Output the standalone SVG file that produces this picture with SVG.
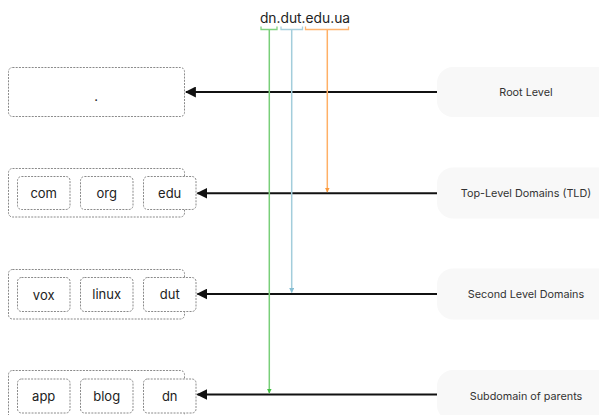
<svg xmlns="http://www.w3.org/2000/svg" width="599" height="415" viewBox="0 0 599 415">
  <style>
    .box { fill: #ffffff; stroke: #8a8a8a; stroke-width: 1; stroke-dasharray: 2 1.2; }
    .lvl { fill: #f8f8f8; stroke: none; }
    .node-text { font-family: Inter, "Open Sans", sans-serif; font-size: 13px; fill: #222; text-anchor: middle; dominant-baseline: central; }
    .lvl-text { font-family: Inter, "Open Sans", sans-serif; font-size: 10.8px; fill: #333; text-anchor: middle; dominant-baseline: central; }
    .domain { font-family: Inter, "Open Sans", sans-serif; font-size: 13.8px; fill: #222; text-anchor: middle; }
    .conn { stroke: #111; stroke-width: 2; fill: none; }
    .brk { fill: none; stroke-width: 1.3; }
  </style>
  <defs>
    <marker id="head" viewBox="0 0 10 10" refX="9" refY="5" markerWidth="5.5" markerHeight="5.5" orient="auto">
      <path d="M0,0 L10,5 L0,10 z" fill="#111"/>
    </marker>
    <marker id="headG" viewBox="0 0 10 10" refX="9" refY="5" markerWidth="5" markerHeight="5" orient="auto" markerUnits="userSpaceOnUse">
      <path d="M0,0 L10,5 L0,10 z" fill="#3fc03f"/>
    </marker>
    <marker id="headB" viewBox="0 0 10 10" refX="9" refY="5" markerWidth="5" markerHeight="5" orient="auto" markerUnits="userSpaceOnUse">
      <path d="M0,0 L10,5 L0,10 z" fill="#86bed3"/>
    </marker>
    <marker id="headO" viewBox="0 0 10 10" refX="9" refY="5" markerWidth="5" markerHeight="5" orient="auto" markerUnits="userSpaceOnUse">
      <path d="M0,0 L10,5 L0,10 z" fill="#fb9a3c"/>
    </marker>
  </defs>

  <!-- domain name with brackets -->
  <g id="domain">
    <text class="domain" x="305" y="23">dn.dut.edu.ua</text>
    <path class="brk" stroke="#7fd27f" d="M261,26.5 V29.5 H277 V26.5"/>
    <path class="brk" stroke="#a9d0dd" d="M281,26.5 V29.5 H302.5 V26.5"/>
    <path class="brk" stroke="#ffb46e" d="M305.5,26.5 V29.5 H348.5 V26.5"/>
  </g>

  <!-- level labels -->
  <g id="lvl-root"><rect class="lvl" x="437" y="67" width="180" height="50" rx="16"/><text class="lvl-text" x="526" y="92">Root Level</text></g>
  <g id="lvl-tld"><rect class="lvl" x="437" y="167.5" width="180" height="51" rx="16"/><text class="lvl-text" x="526" y="193">Top-Level Domains (TLD)</text></g>
  <g id="lvl-sld"><rect class="lvl" x="437" y="268.5" width="180" height="51" rx="16"/><text class="lvl-text" x="526" y="294">Second Level Domains</text></g>
  <g id="lvl-sub"><rect class="lvl" x="437" y="370" width="180" height="51" rx="16"/><text class="lvl-text" x="526" y="396">Subdomain of parents</text></g>

  <!-- root -->
  <g id="root">
    <rect class="box" x="8.5" y="67.5" width="176" height="49" rx="4"/>
    <text class="node-text" x="96" y="96">.</text>
  </g>

  <!-- top-level domains -->
  <g id="tld">
    <rect class="box" x="8.5" y="168.5" width="176" height="48.5" rx="4"/>
    <g id="com"><rect class="box" x="17.5" y="176.5" width="52.5" height="33" rx="4"/><text class="node-text" x="43.7" y="193">com</text></g>
    <g id="org"><rect class="box" x="80.5" y="176.5" width="52.5" height="33" rx="4"/><text class="node-text" x="106.7" y="193">org</text></g>
    <g id="edu"><rect class="box" x="143.5" y="176.5" width="52.5" height="33" rx="4"/><text class="node-text" x="169.7" y="193">edu</text></g>
  </g>

  <!-- second level domains -->
  <g id="sld">
    <rect class="box" x="8.5" y="269.5" width="176" height="49.5" rx="4"/>
    <g id="vox"><rect class="box" x="17.5" y="277.5" width="52.5" height="34" rx="4"/><text class="node-text" x="43.7" y="294.5">vox</text></g>
    <g id="linux"><rect class="box" x="80.5" y="277.5" width="52.5" height="34" rx="4"/><text class="node-text" x="106.7" y="294">linux</text></g>
    <g id="dut"><rect class="box" x="143.5" y="277.5" width="52.5" height="34" rx="4"/><text class="node-text" x="169.7" y="294">dut</text></g>
  </g>

  <!-- subdomains -->
  <g id="sub">
    <rect class="box" x="8.5" y="370.5" width="176" height="50" rx="4"/>
    <g id="app"><rect class="box" x="17.5" y="379" width="52.5" height="34" rx="4"/><text class="node-text" x="43.7" y="395.5">app</text></g>
    <g id="blog"><rect class="box" x="80.5" y="379" width="52.5" height="34" rx="4"/><text class="node-text" x="106.7" y="395.5">blog</text></g>
    <g id="dn"><rect class="box" x="143.5" y="379" width="52.5" height="34" rx="4"/><text class="node-text" x="169.7" y="395.5">dn</text></g>
  </g>

  <!-- connectors -->
  <g id="connectors">
    <line class="conn" x1="437" y1="92" x2="186" y2="92" marker-end="url(#head)"/>
    <line class="conn" x1="437" y1="193.3" x2="197.5" y2="193.3" marker-end="url(#head)"/>
    <line class="conn" x1="437" y1="294" x2="197.5" y2="294" marker-end="url(#head)"/>
    <line class="conn" x1="437" y1="394.5" x2="197.5" y2="394.5" marker-end="url(#head)"/>
    <line stroke="#79cf79" stroke-width="1.5" x1="269.3" y1="30" x2="269.3" y2="393" marker-end="url(#headG)"/>
    <line stroke="#a3cddb" stroke-width="1.5" x1="291.7" y1="30" x2="291.7" y2="292.5" marker-end="url(#headB)"/>
    <line stroke="#ffb066" stroke-width="1.5" x1="327.3" y1="30" x2="327.3" y2="192" marker-end="url(#headO)"/>
  </g>
</svg>
